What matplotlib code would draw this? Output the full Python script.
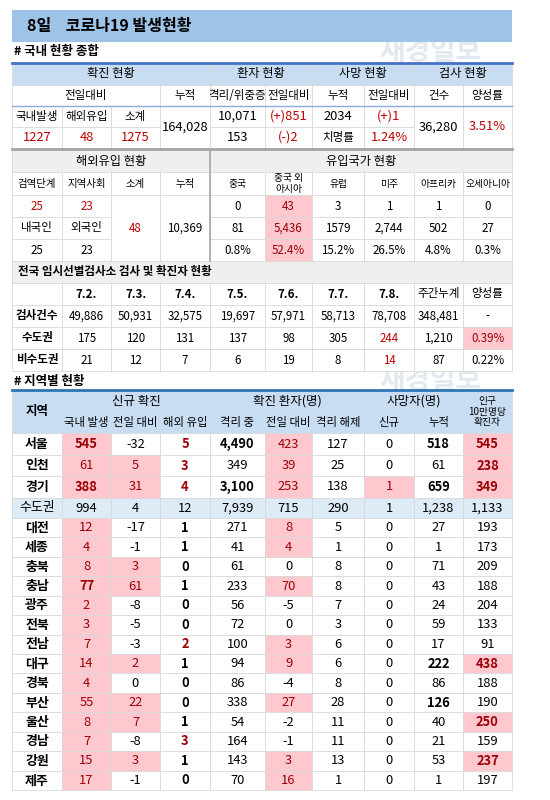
import matplotlib
matplotlib.use("Agg")
import matplotlib.pyplot as plt
from matplotlib.patches import Rectangle

plt.rcParams['font.family'] = ['Noto Sans CJK KR', 'DejaVu Sans']

# ---------------- data ----------------
title = "8일    코로나19 발생현황"
sec1 = "# 국내 현황 종합"
sec2 = "# 지역별 현황"
top_groups = ["확진 현황", "환자 현황", "사망 현황", "검사 현황"]
top_sub = ["전일대비", "누적", "격리/위중증", "전일대비", "누적", "전일대비", "건수", "양성률"]
conf_labels = ["국내발생", "해외유입", "소계"]
conf_values = ["1227", "48", "1275"]
conf_total = "164,028"
patients = ["10,071", "(+)851", "153", "(-)2"]
deaths = ["2034", "(+)1", "치명률", "1.24%"]
tests = ["36,280", "3.51%"]

imp_headers = ["검역단계", "지역사회", "소계", "누적"]
imp_stage = ["25", "23"]
imp_who = ["내국인", "외국인"]
imp_who_n = ["25", "23"]
imp_sub = "48"
imp_total = "10,369"
countries = ["중국", "중국 외\n아시아", "유럽", "미주", "아프리카", "오세아니아"]
country_new = ["0", "43", "3", "1", "1", "0"]
country_cum = ["81", "5,436", "1579", "2,744", "502", "27"]
country_pct = ["0.8%", "52.4%", "15.2%", "26.5%", "4.8%", "0.3%"]

screen_title = "전국 임시선별검사소 검사 및 확진자 현황"
screen_cols = ["7.2.", "7.3.", "7.4.", "7.5.", "7.6.", "7.7.", "7.8.", "주간누계", "양성률"]
screen_rows = ["검사건수", "수도권", "비수도권"]
screen_tests = ["49,886", "50,931", "32,575", "19,697", "57,971", "58,713", "78,708", "348,481", "-"]
screen_metro = ["175", "120", "131", "137", "98", "305", "244", "1,210", "0.39%"]
screen_nonmetro = ["21", "12", "7", "6", "19", "8", "14", "87", "0.22%"]

reg_sub = ["국내 발생", "전일 대비", "해외 유입", "격리 중", "전일 대비", "격리 해제", "신규", "누적"]
regions = ["서울", "인천", "경기", "수도권", "대전", "세종", "충북", "충남", "광주", "전북",
           "전남", "대구", "경북", "부산", "울산", "경남", "강원", "제주"]
domestic = [545, 61, 388, 994, 12, 4, 8, 77, 2, 3, 7, 14, 4, 55, 8, 7, 15, 17]
dom_change = [-32, 5, 31, 4, -17, -1, 3, 61, -8, -5, -3, 2, 0, 22, 7, -8, 3, -1]
overseas = [5, 3, 4, 12, 1, 1, 0, 1, 0, 0, 2, 1, 0, 0, 1, 3, 1, 0]
isolated = ["4,490", "349", "3,100", "7,939", "271", "41", "61", "233", "56", "72", "100", "94",
            "86", "338", "54", "164", "143", "70"]
iso_change = [423, 39, 253, 715, 8, 4, 0, 70, -5, 0, 3, 9, -4, 27, -2, -1, 3, 16]
released = [127, 25, 138, 290, 5, 1, 8, 8, 7, 3, 6, 6, 8, 28, 11, 11, 13, 1]
death_new = [0, 0, 1, 1, 0, 0, 0, 0, 0, 0, 0, 0, 0, 0, 0, 0, 0, 0]
death_cum = ["518", "61", "659", "1,238", "27", "1", "71", "43", "24", "59", "17", "222",
             "86", "126", "40", "21", "53", "1"]
per100k = ["545", "238", "349", "1,133", "193", "173", "209", "188", "204", "133", "91", "438",
           "188", "190", "250", "159", "237", "197"]

# ---------------- layout ----------------
fig = plt.figure(figsize=(5.5, 8), dpi=100)
ax = fig.add_axes([0, 0, 1, 1])
ax.set_xlim(0, 550)
ax.set_ylim(800, 0)
ax.axis('off')

X = [12, 62, 111, 160, 210, 265, 312, 364, 414, 463, 512]
PINK = "#ffc7ce"
DRED = "#9c0006"
RED = "#c00000"
LBLUE = "#c9ddf2"
GRID = "#d9d9d9"
GRAYBG = "#efefef"
FS = 8.3
RFS = 9.3


def cell(x0, x1, y0, y1, text="", bg="white", color="black", bold=False, fs=FS, ha="center", grid=True):
    ax.add_patch(Rectangle((x0, y0), x1 - x0, y1 - y0, facecolor=bg,
                           edgecolor=GRID if grid else bg, lw=0.6))
    if text != "":
        tx = (x0 + x1) / 2 if ha == "center" else x0 + 6
        ax.text(tx, (y0 + y1) / 2, text, ha=ha, va="center", fontsize=fs, color=color,
                fontweight="bold" if bold else "normal", linespacing=1.1)


# title bar
ax.add_patch(Rectangle((12, 10), 500, 32, facecolor="#9dc3e6", edgecolor="none"))
ax.text(27, 26, title, fontsize=11.5, fontweight="bold", va="center", ha="left")
ax.text(14, 52, sec1, fontsize=9, fontweight="bold", va="center", ha="left")
ax.text(430, 52, "재경일보", fontsize=20, fontweight="bold", color="#e3e9f0", va="center", ha="center", zorder=0)

# --- section 1 ---
spans = [(0, 4), (4, 6), (6, 8), (8, 10)]
for (a, b), t in zip(spans, top_groups):
    cell(X[a], X[b], 63, 85, t, bg=LBLUE, fs=8.8)
sub_spans = [(0, 3), (3, 4), (4, 5), (5, 6), (6, 7), (7, 8), (8, 9), (9, 10)]
for (a, b), t in zip(sub_spans, top_sub):
    cell(X[a], X[b], 85, 106, t)
for i in range(3):
    cell(X[i], X[i + 1], 106, 127, conf_labels[i])
    cell(X[i], X[i + 1], 127, 148, conf_values[i], color=RED, fs=9.3)
cell(X[3], X[4], 106, 148, conf_total, fs=9.3)
cell(X[4], X[5], 106, 127, patients[0], fs=9.3)
cell(X[5], X[6], 106, 127, patients[1], color=RED, fs=9.3)
cell(X[4], X[5], 127, 148, patients[2], fs=9.3)
cell(X[5], X[6], 127, 148, patients[3], color=RED, fs=9.3)
cell(X[6], X[7], 106, 127, deaths[0], fs=9.3)
cell(X[7], X[8], 106, 127, deaths[1], color=RED, fs=9.3)
cell(X[6], X[7], 127, 148, deaths[2])
cell(X[7], X[8], 127, 148, deaths[3], color=RED, fs=9.3)
cell(X[8], X[9], 106, 148, tests[0], fs=9.3)
cell(X[9], X[10], 106, 148, tests[1], color=RED, fs=9.3)
ax.plot([12, 512], [62.5, 62.5], color="#4472c4", lw=2)
ax.plot([12, 512], [106, 106], color="#8eaadb", lw=1)

# --- section 2 ---
cell(X[0], X[4], 150, 172, "해외유입 현황", bg=GRAYBG, fs=8.8)
cell(X[4], X[10], 150, 172, "유입국가 현황", bg=GRAYBG, fs=8.8)
for i, t in enumerate(imp_headers):
    cell(X[i], X[i + 1], 172, 195, t, fs=7.5)
for i, t in enumerate(countries):
    cell(X[4 + i], X[5 + i], 172, 195, t, fs=7)
R = [195, 217, 239, 261]
for i in range(2):
    cell(X[i], X[i + 1], R[0], R[1], imp_stage[i], color=RED)
    cell(X[i], X[i + 1], R[1], R[2], imp_who[i])
    cell(X[i], X[i + 1], R[2], R[3], imp_who_n[i])
cell(X[2], X[3], R[0], R[3], imp_sub, color=RED)
cell(X[3], X[4], R[0], R[3], imp_total)
for i in range(6):
    bg = PINK if i == 1 else "white"
    col = DRED if i == 1 else "black"
    for r, vals in enumerate([country_new, country_cum, country_pct]):
        cell(X[4 + i], X[5 + i], R[r], R[r + 1], vals[i], bg=bg, color=col)
ax.plot([12, 512], [149, 149], color="#a6a6a6", lw=2)
ax.plot([210, 210], [150, 261], color="#a6a6a6", lw=1.2)

# --- screening ---
cell(X[0], X[10], 261, 283, screen_title, bg=GRAYBG, ha="left", bold=True)
S = [283, 305, 327, 349, 371]
cell(X[0], X[1], S[0], S[1], "")
for j, t in enumerate(screen_cols):
    cell(X[j + 1], X[j + 2], S[0], S[1], t, bold=(j < 7))
for r, (lab, vals) in enumerate(zip(screen_rows, [screen_tests, screen_metro, screen_nonmetro])):
    cell(X[0], X[1], S[r + 1], S[r + 2], lab, bold=True)
    for j, v in enumerate(vals):
        bg, col = "white", "black"
        if r > 0 and j == 6:
            col = RED
        if r == 1 and j == 8:
            bg, col = PINK, DRED
        cell(X[j + 1], X[j + 2], S[r + 1], S[r + 2], v, bg=bg, color=col)

# --- regional ---
ax.text(14, 381, sec2, fontsize=9, fontweight="bold", va="center", ha="left")
ax.text(430, 381, "재경일보", fontsize=20, fontweight="bold", color="#e3e9f0", va="center", ha="center", zorder=0)
H0, H1, H2 = 390, 412, 433
cell(X[0], X[1], H0, H2, "지역", bg=LBLUE, bold=True, fs=9)
cell(X[1], X[4], H0, H1, "신규 확진", bg=LBLUE, grid=False, fs=9)
cell(X[4], X[7], H0, H1, "확진 환자(명)", bg=LBLUE, grid=False, fs=9)
cell(X[7], X[9], H0, H1, "사망자(명)", bg=LBLUE, grid=False, fs=9)
cell(X[9], X[10], H0, H2, "인구\n10만명당\n확진자", bg=LBLUE, fs=7)
for j, t in enumerate(reg_sub):
    cell(X[j + 1], X[j + 2], H1, H2, t, bg=LBLUE, fs=8.2, grid=False)
ax.plot([12, 512], [390, 390], color="#2e75b6", lw=2)

ys = [433, 455, 476, 498, 518]
step = (790 - 518) / 14
for k in range(14):
    ys.append(518 + step * (k + 1))

bold_iso = {"4,490", "3,100"}
bold_dc = {"518", "659", "222", "126"}
pink_100k = {"545", "238", "349", "438", "250", "237"}

for i, reg in enumerate(regions):
    y0, y1 = ys[i], ys[i + 1]
    metro = reg == "수도권"
    base = "#ddebf7" if metro else "white"
    cell(X[0], X[1], y0, y1, reg, bg=base, bold=not metro, fs=RFS)

    def put(c, txt, pink=False, bold=False, color="black"):
        if metro:
            cell(X[c], X[c + 1], y0, y1, txt, bg=base, fs=RFS)
        elif pink:
            cell(X[c], X[c + 1], y0, y1, txt, bg=PINK, color=DRED, bold=bold, fs=RFS)
        else:
            cell(X[c], X[c + 1], y0, y1, txt, color=color, bold=bold, fs=RFS)

    put(1, str(domestic[i]), pink=True, bold=domestic[i] >= 77 or domestic[i] == 545)
    put(2, str(dom_change[i]), pink=dom_change[i] > 0)
    put(3, str(overseas[i]), bold=True, color=DRED if overseas[i] >= 2 else "black")
    put(4, isolated[i], bold=isolated[i] in bold_iso)
    put(5, str(iso_change[i]), pink=iso_change[i] > 0)
    put(6, str(released[i]))
    put(7, str(death_new[i]), pink=death_new[i] > 0)
    put(8, death_cum[i], bold=death_cum[i] in bold_dc)
    put(9, per100k[i], pink=per100k[i] in pink_100k, bold=per100k[i] in pink_100k)

fig.savefig("out.png", dpi=100)
